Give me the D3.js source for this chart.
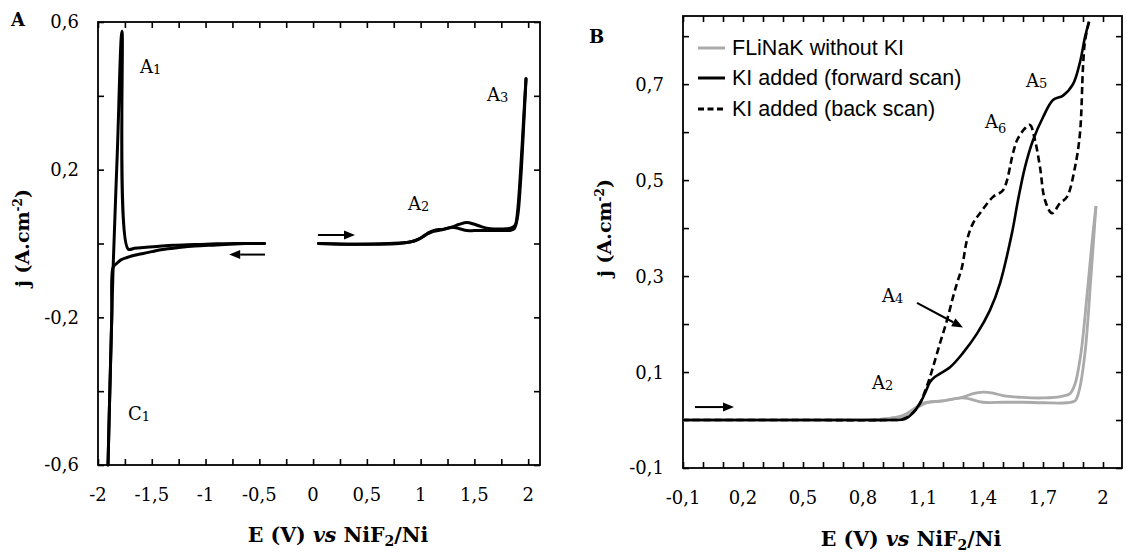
<!DOCTYPE html>
<html>
<head>
<meta charset="utf-8">
<script src="https://cdn.jsdelivr.net/npm/d3@7"></script>
<style>
  html, body { margin: 0; padding: 0; background: #fff; }
  svg { display: block; }
</style>
</head>
<body>
<svg id="chart" width="1127" height="554"></svg>
<script>
// ---------------- DATA ----------------
// Panel A : CV of FLiNaK, E (V) vs NiF2/Ni, j (A.cm-2)
const aCathodicE = [-0.63, -0.9, -1.1, -1.25, -1.4, -1.5, -1.58, -1.66, -1.73, -1.79, -1.83, -1.86, -1.872, -1.89, -1.907];
const aCathodicJ = [0.0, -0.004, -0.007, -0.011, -0.016, -0.022, -0.027, -0.032, -0.038, -0.045, -0.055, -0.065, -0.2, -0.4, -0.6];
const aReturnE = [-1.907, -1.89, -1.872, -1.86, -1.82, -1.777, -1.72, -1.66, -1.55, -1.45, -1.3, -1.1, -0.9, -0.7, -0.45];
const aReturnJ = [-0.6, -0.4, -0.2, -0.07, 0.25, 0.575, -0.015, -0.013, -0.01, -0.008, -0.005, -0.003, -0.001, 0.0, 0.0];
const aAnodicFwdE = [0.05, 0.3, 0.6, 0.8, 0.9, 0.97, 1.03, 1.08, 1.14, 1.2, 1.29, 1.36, 1.43, 1.5, 1.57, 1.65, 1.73, 1.8, 1.85, 1.88, 1.9, 1.93, 1.97, 1.98];
const aAnodicFwdJ = [0, -0.002, -0.002, 0.0, 0.004, 0.01, 0.02, 0.03, 0.037, 0.038, 0.044, 0.052, 0.057, 0.052, 0.045, 0.04, 0.039, 0.04, 0.043, 0.05, 0.083, 0.2, 0.4, 0.446];
const aAnodicBackE = [1.98, 1.96, 1.93, 1.9, 1.87, 1.84, 1.75, 1.6, 1.5, 1.43, 1.36, 1.29, 1.2, 1.12, 1.05, 0.98, 0.9, 0.7, 0.4, 0.05];
const aAnodicBackJ = [0.446, 0.33, 0.17, 0.07, 0.04, 0.036, 0.035, 0.035, 0.035, 0.035, 0.04, 0.044, 0.037, 0.033, 0.024, 0.012, 0.004, 0.0, -0.002, 0];
const aXTicks = [-2, -1.75, -1.5, -1.25, -1, -0.75, -0.5, -0.25, 0, 0.25, 0.5, 0.75, 1, 1.25, 1.5, 1.75, 2];
const aXLabels = [-2, -1.5, -1, -0.5, 0, 0.5, 1, 1.5, 2];
const aYTicks = [-0.6, -0.4, -0.2, 0, 0.2, 0.4, 0.6];
const aYLabels = [-0.6, -0.2, 0.2, 0.6];

// Panel B
const bGrayFwdE = [-0.1, 0.3, 0.7, 0.9, 1.0, 1.05, 1.08, 1.12, 1.2, 1.3, 1.35, 1.4, 1.45, 1.5, 1.6, 1.7, 1.8, 1.835, 1.86, 1.89, 1.92, 1.945, 1.965];
const bGrayFwdJ = [0, 0, 0, 0.002, 0.008, 0.018, 0.028, 0.036, 0.04, 0.048, 0.055, 0.058, 0.056, 0.051, 0.047, 0.046, 0.05, 0.055, 0.075, 0.14, 0.26, 0.37, 0.446];
const bGrayBackE = [1.965, 1.94, 1.91, 1.88, 1.86, 1.82, 1.7, 1.6, 1.5, 1.4, 1.3, 1.2, 1.1, 1.05, 1.0, 0.9, 0.5, -0.1];
const bGrayBackJ = [0.446, 0.3, 0.14, 0.06, 0.04, 0.036, 0.036, 0.037, 0.037, 0.037, 0.046, 0.04, 0.035, 0.022, 0.01, 0.002, 0, 0];
const bFwdE = [-0.1, 0.2, 0.5, 0.8, 0.95, 1.01, 1.05, 1.085, 1.11, 1.135, 1.16, 1.235, 1.3, 1.37, 1.435, 1.485, 1.545, 1.575, 1.61, 1.65, 1.7, 1.75, 1.8, 1.85, 1.885, 1.91, 1.93];
const bFwdJ = [0, 0, 0, 0, 0, 0.002, 0.015, 0.035, 0.056, 0.079, 0.09, 0.11, 0.14, 0.18, 0.229, 0.285, 0.39, 0.458, 0.527, 0.583, 0.631, 0.667, 0.676, 0.70, 0.746, 0.798, 0.83];
const bBackE = [1.93, 1.91, 1.9, 1.885, 1.86, 1.82, 1.785, 1.745, 1.71, 1.685, 1.66, 1.635, 1.61, 1.57, 1.55, 1.5, 1.45, 1.385, 1.35, 1.32, 1.295, 1.27, 1.25, 1.22, 1.185, 1.15, 1.13, 1.11, 1.085, 1.05, 1.0, 0.9, 0.5, -0.1];
const bBackJ = [0.83, 0.79, 0.735, 0.598, 0.527, 0.465, 0.452, 0.431, 0.458, 0.527, 0.583, 0.615, 0.608, 0.583, 0.556, 0.479, 0.465, 0.431, 0.41, 0.375, 0.319, 0.285, 0.256, 0.208, 0.16, 0.11, 0.083, 0.06, 0.035, 0.015, 0.002, 0, 0, 0];
const bXTicks = d3.range(-1, 21).map(i => i / 10);
const bXLabels = [-0.1, 0.2, 0.5, 0.8, 1.1, 1.4, 1.7, 2.0];
const bYTicks = d3.range(-1, 9).map(i => i / 10);
const bYLabels = [-0.1, 0.1, 0.3, 0.5, 0.7];
const legendLabels = ["FLiNaK without KI", "KI added (forward scan)", "KI added (back scan)"];

// ---------------- DRAW ----------------
const svg = d3.select("#chart");
svg.append("rect").attr("width", 1127).attr("height", 554).attr("fill", "#fff");
const serif = "'DejaVu Serif', serif";
const sans = "'Liberation Sans', Arial, sans-serif";
const fmt = v => String(+(+v).toFixed(2)).replace(".", ",");
const zip = (E, J) => E.map((e, i) => [e, J[i]]);

function frame(g, x, y, xTicks, yTicks, xLabels, yLabels) {
  const [x0, x1] = x.range(), [y0, y1] = y.range();
  const tk = 6;
  const clean = s => { s.select(".domain").remove(); s.selectAll(".tick line").attr("stroke", "#000").attr("stroke-width", 1.6); };
  g.append("g").attr("transform", `translate(0,${y0})`).call(d3.axisBottom(x).tickValues(xTicks).tickSize(-tk).tickFormat("")).call(clean);
  g.append("g").attr("transform", `translate(0,${y1})`).call(d3.axisTop(x).tickValues(xTicks).tickSize(-tk).tickFormat("")).call(clean);
  g.append("g").attr("transform", `translate(${x0},0)`).call(d3.axisLeft(y).tickValues(yTicks).tickSize(-tk).tickFormat("")).call(clean);
  g.append("g").attr("transform", `translate(${x1},0)`).call(d3.axisRight(y).tickValues(yTicks).tickSize(-tk).tickFormat("")).call(clean);
  g.append("rect").attr("x", x0).attr("y", y1).attr("width", x1 - x0).attr("height", y0 - y1)
    .attr("fill", "none").attr("stroke", "#000").attr("stroke-width", 1.8);
  g.selectAll(null).data(xLabels).enter().append("text")
    .attr("x", d => x(d)).attr("y", y0 + 36).attr("text-anchor", "middle")
    .attr("font-family", serif).attr("font-size", 18).text(fmt);
  g.selectAll(null).data(yLabels).enter().append("text")
    .attr("x", x0 - 19).attr("y", d => y(d)).attr("dy", "0.36em").attr("text-anchor", "end")
    .attr("font-family", serif).attr("font-size", 18).text(fmt);
}

function xTitle(g, cx, cy, gap) {
  const t = g.append("text").attr("x", cx).attr("y", cy).attr("text-anchor", "middle")
    .attr("font-family", serif).attr("font-size", 20.5).attr("font-weight", "bold");
  t.append("tspan").text("E (V) ");
  t.append("tspan").attr("font-style", "italic").text("vs");
  t.append("tspan").text(gap + "NiF");
  t.append("tspan").attr("font-size", 14).attr("dy", 4).text("2");
  t.append("tspan").attr("dy", -4).text("/Ni");
}
function yTitle(g, cx, cy) {
  const t = g.append("text").attr("transform", `translate(${cx},${cy}) rotate(-90)`).attr("text-anchor", "middle")
    .attr("font-family", serif).attr("font-size", 19).attr("font-weight", "bold");
  t.append("tspan").text("j (A.cm");
  t.append("tspan").attr("font-size", 12).attr("dy", -7).text("-2");
  t.append("tspan").attr("dy", 7).text(")");
}
function label(g, x, y, main, sub, subDy) {
  const t = g.append("text").attr("x", x).attr("y", y).attr("font-family", serif).attr("font-size", 18);
  t.append("tspan").text(main);
  t.append("tspan").attr("font-size", 13).attr("dy", subDy).text(sub);
}
function arrow(g, x1, y1, x2, y2) {
  const ang = Math.atan2(y2 - y1, x2 - x1), L = 11, W = 4.5;
  const bx = x2 - L * Math.cos(ang), by = y2 - L * Math.sin(ang);
  g.append("line").attr("x1", x1).attr("y1", y1).attr("x2", bx).attr("y2", by).attr("stroke", "#000").attr("stroke-width", 2);
  const px = -Math.sin(ang) * W, py = Math.cos(ang) * W;
  g.append("path").attr("d", `M${x2},${y2}L${bx + px},${by + py}L${bx - px},${by - py}Z`).attr("fill", "#000");
}

// ---- Panel A ----
const gA = svg.append("g");
const xA = d3.scaleLinear().domain([-2, 2.11]).range([98, 540]);
const yA = d3.scaleLinear().domain([-0.6, 0.6]).range([465, 22]);
const lineA = d3.line().x(d => xA(d[0])).y(d => yA(d[1])).curve(d3.curveCatmullRom.alpha(0.5));
frame(gA, xA, yA, aXTicks, aYTicks, aXLabels, aYLabels);
[[aCathodicE, aCathodicJ], [aReturnE, aReturnJ], [aAnodicFwdE, aAnodicFwdJ], [aAnodicBackE, aAnodicBackJ]].forEach(([E, J]) => {
  gA.append("path").attr("d", lineA(zip(E, J))).attr("fill", "none").attr("stroke", "#000")
    .attr("stroke-width", 3).attr("stroke-linejoin", "round").attr("stroke-linecap", "round");
});
gA.append("text").attr("x", 11).attr("y", 26).attr("font-family", serif).attr("font-weight", "bold").attr("font-size", 18).text("A");
xTitle(gA, 338, 542, " ");
yTitle(gA, 29, 238);
label(gA, 140, 73, "A", "1", 1);
label(gA, 408, 210, "A", "2", 1);
label(gA, 487, 101, "A", "3", 1);
label(gA, 128, 420, "C", "1", 1);
arrow(gA, xA(-0.447), yA(-0.030), xA(-0.78), yA(-0.030));
arrow(gA, xA(0.045), yA(0.023), xA(0.39), yA(0.023));

// ---- Panel B ----
const gB = svg.append("g");
const xB = d3.scaleLinear().domain([-0.1, 2.095]).range([683, 1122]);
const yB = d3.scaleLinear().domain([-0.1, 0.842]).range([468, 16]);
const lineB = d3.line().x(d => xB(d[0])).y(d => yB(d[1])).curve(d3.curveCatmullRom.alpha(0.5));
frame(gB, xB, yB, bXTicks, bYTicks, bXLabels, bYLabels);
const gray = "#aaaaaa";
[[bGrayFwdE, bGrayFwdJ], [bGrayBackE, bGrayBackJ]].forEach(([E, J]) => {
  gB.append("path").attr("d", lineB(zip(E, J))).attr("fill", "none").attr("stroke", gray).attr("stroke-width", 2.8).attr("stroke-linejoin", "round");
});
gB.append("path").attr("d", lineB(zip(bBackE, bBackJ))).attr("fill", "none").attr("stroke", "#000")
  .attr("stroke-width", 2.6).attr("stroke-dasharray", "7,4");
gB.append("path").attr("d", lineB(zip(bFwdE, bFwdJ))).attr("fill", "none").attr("stroke", "#000")
  .attr("stroke-width", 2.6).attr("stroke-linejoin", "round");
gB.append("text").attr("x", 589).attr("y", 43).attr("font-family", serif).attr("font-weight", "bold").attr("font-size", 18).text("B");
xTitle(gB, 911, 546, "  ");
yTitle(gB, 611, 228);
label(gB, 1026, 87, "A", "5", 1);
label(gB, 985, 128, "A", "6", 5);
label(gB, 882, 302, "A", "4", 1);
label(gB, 872, 389, "A", "2", 1);
arrow(gB, xB(1.07), yB(0.244), xB(1.30), yB(0.193));
arrow(gB, xB(-0.04), yB(0.027), xB(0.155), yB(0.027));

// legend
const legStyles = [{ c: gray, d: null }, { c: "#000", d: null }, { c: "#000", d: "6,3.5" }];
const legY = [48, 78, 109];
legendLabels.forEach((t, i) => {
  gB.append("line").attr("x1", 698).attr("x2", 725).attr("y1", legY[i]).attr("y2", legY[i])
    .attr("stroke", legStyles[i].c).attr("stroke-width", 3).attr("stroke-dasharray", legStyles[i].d);
  gB.append("text").attr("x", 732).attr("y", legY[i] + 7).attr("font-family", sans).attr("font-size", 21.5).text(t);
});
</script>
</body>
</html>
